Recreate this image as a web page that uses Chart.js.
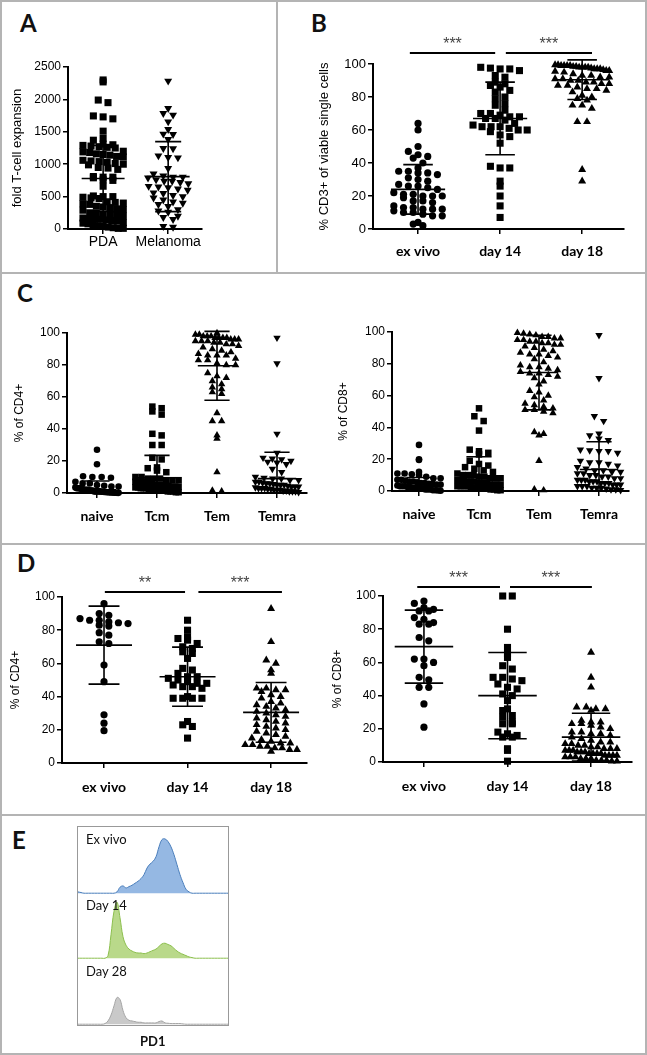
<!DOCTYPE html>
<html>
<head>
<meta charset="utf-8">
<script src="https://cdn.jsdelivr.net/npm/chart.js@4.4.0/dist/chart.umd.min.js"></script>
<style>
body{margin:0;background:#fff;width:647px;height:1055px;position:relative;overflow:hidden;font-family:'Liberation Sans',Arial,sans-serif}
.frame{position:absolute;left:0;top:0;width:647px;height:1055px;border:2px solid #b4b4b4;box-sizing:border-box}
.hline{position:absolute;left:0;width:647px;height:2px;background:#b4b4b4}
.vline{position:absolute;width:2px;background:#b4b4b4}
.letter{position:absolute;font-family:Lato,sans-serif;font-weight:700;font-size:24px;line-height:1;color:#111}
.hlab{position:absolute;font-family:Lato,sans-serif;font-size:13px;line-height:1;color:#111}
.ebox{position:absolute;left:77px;top:826px;width:152px;height:200px;border:1px solid #999;box-sizing:border-box}
canvas{position:absolute}
</style>
</head>
<body>
<div class="frame"></div>
<div class="hline" style="top:272px"></div>
<div class="hline" style="top:543px"></div>
<div class="hline" style="top:814px"></div>
<div class="vline" style="left:276px;top:0;height:273px"></div>

<div class="letter" style="left:20px;top:11px">A</div>
<div class="letter" style="left:311px;top:11px">B</div>
<div class="letter" style="left:17px;top:281px">C</div>
<div class="letter" style="left:17px;top:551px">D</div>
<div class="letter" style="left:12px;top:828px">E</div>

<canvas id="chartA"></canvas>
<canvas id="chartB"></canvas>
<canvas id="chartC4"></canvas>
<canvas id="chartC8"></canvas>
<canvas id="chartD4"></canvas>
<canvas id="chartD8"></canvas>

<div class="ebox"></div>
<canvas id="histEx"></canvas>
<canvas id="hist14"></canvas>
<canvas id="hist28"></canvas>
<div class="hlab" style="left:86px;top:833px">Ex vivo</div>
<div class="hlab" style="left:86px;top:899px">Day 14</div>
<div class="hlab" style="left:86px;top:965px">Day 28</div>
<div class="hlab" style="left:140px;top:1035px;font-weight:700">PD1</div>

<script>
// ---- data ----
const pctTicks = [0, 20, 40, 60, 80, 100];

// A: fold expansion
const aCats = ['PDA', 'Melanoma'];
const aTicks = [0, 500, 1000, 1500, 2000, 2500];
const aPDA = [2300, 2270, 1990, 1950, 1745, 1730, 1700, 1510, 1400, 1370,
  1310, 1300, 1290, 1280, 1270, 1260, 1250, 1200, 1190, 1180, 1160, 1150, 1140, 1120, 1110,
  1060, 1050, 1040, 1030, 1010, 1000, 990, 950, 940, 920, 810, 800, 800, 790, 760, 750, 660,
  510, 500, 500, 490, 480, 470, 420, 410, 400, 390, 380, 350, 340, 330, 310, 300, 290,
  250, 240, 230, 220, 210, 200, 170, 160, 150, 150, 140, 130, 120, 100, 90, 80, 60, 50, 40, 30, 20, 10, 10];
const aMelanoma = [2284, 1862, 1785, 1760, 1656, 1538, 1466, 1460, 1384, 1245, 1240, 1131, 1106, 1100, 936,
  850, 820, 800, 800, 790, 760, 740, 740, 720, 700, 660, 650, 640, 620, 600, 560, 550, 520, 500,
  480, 450, 420, 400, 380, 350, 300, 280, 260, 200, 180, 150, 40, 30];
const aMean = [780, 808];
const aSd = [510, 540];

// B: % CD3+
const bCats = ['ex vivo', 'day 14', 'day 18'];
const bExVivo = [64, 60, 50, 47, 45, 44, 43, 40, 37, 35, 35, 34, 34, 33, 31, 30, 29, 27, 26, 26, 25, 24, 22, 21, 21,
  20, 20, 20, 19, 17, 17, 16, 14, 13, 13, 12, 12, 12, 11, 10, 10, 9, 8, 8, 4, 3, 2];
const bDay14 = [98, 97.5, 97, 97, 96, 93, 92, 89, 88, 87, 86, 84, 83, 80, 79, 76, 75, 72, 70, 70, 69, 68, 68, 67, 67,
  66, 64, 63, 62, 62, 62, 61, 60, 60, 59, 57, 56, 52, 38, 37, 37, 29, 26, 20, 14, 7];
const bDay18 = [99.5, 99.5, 99, 99, 99, 99, 98.5, 98.5, 98, 98, 98, 98, 97.5, 97, 97, 97, 96.5, 96, 96, 95.5, 95, 94,
  93, 93, 92, 92, 91, 91, 90, 90, 89, 89, 88, 88, 87, 87, 86, 85, 85, 84, 83, 81, 80, 79, 78, 75, 75, 73, 65, 65, 36, 29];
const bMean = [24, 67, 90.5];
const bSd = [15, 22, 12];
const bSigFrom = [0.90, 2.07];
const bSigTo = [1.94, 3.12];
const bSigText = ['***', '***'];

// C: subsets
const cCats = ['naive', 'Tcm', 'Tem', 'Temra'];
const cNaive4 = [27, 18, 10.5, 10, 10, 9.5, 7, 6, 6, 5, 4.5, 4, 4, 3.5, 3, 3, 3, 2.5, 2.5, 2, 2, 2, 2, 1.5, 1.5, 1.5,
  1, 1, 1, 1, 1, 0.8, 0.8, 0.6, 0.6, 0.5, 0.5, 0.4, 0.3, 0.3, 0.2, 0.2, 0.1, 0.1];
const cTcm4 = [54, 53, 51, 49, 37, 36, 30, 30, 22, 21, 16, 15.5, 14, 13, 10, 10, 9, 9, 9, 8, 8, 8, 7, 7, 7, 6, 6, 6,
  5, 5, 5, 5, 4.5, 4, 4, 4, 3.5, 3.5, 3, 3, 3, 2.5, 2.5, 2, 2, 2, 1.5, 1.5, 1, 1, 1, 0.5, 0.5];
const cTem4 = [100, 99, 99, 98, 98, 98, 97, 97, 97, 97, 96, 96, 96, 95, 95, 95, 94, 94, 93, 93, 92, 91, 90, 89, 88, 87,
  86, 86, 86, 84, 83, 83, 81, 80, 80, 75, 73, 72, 70, 68, 66, 65, 63, 62, 50, 45, 45, 36, 34, 13, 1.5, 1];
const cTemra4 = [97, 81, 37, 25, 22, 21.5, 21, 20, 19.5, 19, 18, 15, 13, 10, 9.5, 9, 9, 8, 8, 7, 7, 6.5, 6, 6, 5.5,
  5, 5, 5, 4.5, 4, 4, 4, 3.5, 3, 3, 3, 2.5, 2.5, 2, 2, 2, 1.5, 1.5, 1, 1, 1, 0.5];
const cMean4 = [2, 9.5, 79.5, 9];
const cSd4 = [5.5, 14, 21.5, 16.5];

const cNaive8 = [29, 20, 19.5, 12, 11, 11, 10.5, 10, 9, 8, 8, 7, 7, 6.5, 6, 6, 5.5, 5, 5, 4.5, 4.5, 4, 4, 3.5, 3, 3, 3,
  2.5, 2.5, 2, 2, 2, 1.5, 1.5, 1, 1, 1, 0.5, 0.5, 0.3, 0.2];
const cTcm8 = [52, 47, 44, 38, 26, 25, 24, 23, 19, 17, 16, 15, 14, 13, 12, 11, 10, 10, 10, 9, 9, 8, 8, 8, 7, 7, 7,
  6, 6, 6, 5, 5, 5, 5, 4, 4, 4, 4, 3, 3, 3, 3, 2.5, 2, 2, 2, 1.5, 1.5, 1, 1, 0.5, 0.5];
const cTem8 = [99.5, 99, 98.5, 98, 97, 97, 96, 96, 95, 95, 94, 94, 93, 93, 92, 92, 91, 90, 89, 88, 87, 86, 86, 85, 84,
  83, 81, 79, 78, 78, 77, 76, 75, 74, 74, 73, 72, 71, 69, 67, 63, 62, 60, 59, 57, 55, 54, 53, 52, 51, 51, 50, 49,
  37, 36, 35, 19, 1, 0.5];
const cTemra8 = [98, 71, 47, 44, 36, 35, 33, 32, 26, 25.5, 25, 25, 24, 19, 18, 18, 17, 16, 15, 14, 13, 13, 12, 12,
  11, 11, 10, 10, 9, 9, 8, 8, 7, 7, 7, 6, 6, 6, 5, 5, 5, 4, 4, 4, 3, 3, 3, 2, 2, 2, 1.5, 1, 1, 0.5];
const cMean8 = [3, 9, 74.5, 13.5];
const cSd8 = [5.5, 12.5, 23.5, 17.5];

// D: PD1+
const dCats = ['ex vivo', 'day 14', 'day 18'];
const dExVivo4 = [96, 90, 89, 87, 86, 86, 85, 84.5, 84, 83, 82.5, 78.5, 77, 73, 72, 59, 49, 29, 24, 19.5];
const dDay14_4 = [86, 80, 76, 75, 74, 72, 70, 69, 67, 66, 63, 57, 56, 54, 52, 52, 51, 50, 49, 48, 48, 47, 46, 46, 45,
  40, 39, 39, 39, 39, 25, 23, 22, 15];
const dDay18_4 = [93, 73, 62, 60, 56, 54, 45, 45, 44, 44, 43, 41, 40, 39, 37, 36, 35, 34, 33, 32, 31, 30, 29, 28, 27,
  26, 25, 24, 23, 22, 21, 20, 19, 18, 17, 16, 15, 14, 13, 12, 12, 11, 11, 10, 10, 9, 9, 8, 8, 7];
const dMean4 = [71, 52, 30.5];
const dSd4 = [23.5, 17.8, 18];
const dSigFrom4 = [1.01, 2.13];
const dSigTo4 = [1.97, 3.13];
const dSigText4 = ['**', '***'];

const dExVivo8 = [97, 95.5, 93, 92, 91, 91, 87, 86, 84, 83, 83, 75, 73, 62, 62, 60, 58, 51, 49.5, 45, 45, 35, 21];
const dDay14_8 = [100, 100, 80, 69, 65, 63, 58, 56, 51, 51, 50, 49, 47, 45, 44, 41, 40, 37, 32, 31, 28, 27, 24, 23,
  23, 18, 17, 16, 15, 15, 8, 7, 0.5];
const dDay18_8 = [66, 51, 45, 33, 33, 32, 32, 31, 25, 24, 24, 23, 23, 22, 21, 20, 18, 18, 17, 17, 16, 15, 14, 13, 12,
  12, 11, 11, 10, 10, 9, 9, 8, 8, 8, 7, 7, 7, 6, 6, 6, 5, 5, 5, 5, 4, 4, 4, 4, 3, 3, 3, 2, 2, 2, 1, 1, 1, 0.5, 0.5];
const dMean8 = [69.5, 40, 15];
const dSd8 = [22, 26, 14.4];
const dSigFrom8 = [0.92, 2.03];
const dSigTo8 = [1.91, 3.01];
const dSigText8 = ['***', '***'];

// E: PD1 histograms (relative counts on a 0..1 PD1 axis)
const pd1Bins = [];
for (let i = 0; i <= 50; i++) pd1Bins.push(i / 50);
const histExVivo = [0.02, 0.01, 0, 0, 0, 0, 0, 0, 0, 0, 0, 0, 0, 0.02, 0.09, 0.11, 0.08, 0.10, 0.12, 0.15, 0.18,
  0.22, 0.28, 0.38, 0.44, 0.48, 0.55, 0.70, 0.81, 0.82, 0.78, 0.70, 0.58, 0.43, 0.28, 0.16, 0.06, 0.02,
  0, 0, 0, 0, 0, 0, 0, 0, 0, 0, 0, 0, 0];
const histDay14 = [0, 0, 0, 0, 0, 0, 0, 0, 0, 0, 0.04, 0.36, 0.72, 0.86, 0.62, 0.33, 0.20, 0.14, 0.11, 0.09, 0.08,
  0.08, 0.07, 0.08, 0.10, 0.12, 0.14, 0.18, 0.22, 0.23, 0.21, 0.19, 0.15, 0.11, 0.08, 0.06, 0.04, 0.02, 0.01,
  0, 0, 0, 0, 0, 0, 0, 0, 0, 0, 0, 0];
const histDay28 = [0, 0, 0, 0, 0, 0, 0, 0, 0, 0.01, 0.05, 0.14, 0.28, 0.41, 0.38, 0.21, 0.10, 0.06, 0.05, 0.04, 0.03,
  0.03, 0.02, 0.02, 0.02, 0.02, 0.02, 0.04, 0.05, 0.02, 0.015, 0.01, 0.01, 0.01, 0.01, 0.005,
  0, 0, 0, 0, 0, 0, 0, 0, 0, 0, 0, 0, 0, 0, 0];

// ---- helpers ----
// GraphPad-like scatter: points sharing a value bin are spread side by side
function swarm(values, center, binH, step, maxHalf) {
  const bins = {};
  values.forEach(v => {
    const k = Math.floor(v / binH);
    (bins[k] = bins[k] || []).push(v);
  });
  const pts = [];
  Object.values(bins).forEach(list => {
    const n = list.length;
    const s = n > 1 ? Math.min(step, 2 * maxHalf / (n - 1)) : 0;
    list.forEach((v, i) => pts.push({ x: center + (i - (n - 1) / 2) * s, y: v }));
  });
  return pts;
}

// mean line + SD whiskers with caps, gaps split by null
function errorBars(means, sds, meanW, capW) {
  const d = [];
  means.forEach((m, i) => {
    const c = i + 1, s = sds[i];
    d.push({ x: c - meanW / 2, y: m }, { x: c + meanW / 2, y: m }, { x: c, y: null },
      { x: c, y: m + s }, { x: c, y: Math.max(m - s, 0) }, { x: c, y: null },
      { x: c - capW / 2, y: m + s }, { x: c + capW / 2, y: m + s }, { x: c, y: null });
    if (m - s > 0) d.push({ x: c - capW / 2, y: m - s }, { x: c + capW / 2, y: m - s }, { x: c, y: null });
  });
  return d;
}

function starsPlugin(sig) {
  return {
    id: 'stars',
    afterDatasetsDraw(chart) {
      if (!sig) return;
      const ctx = chart.ctx, xs = chart.scales.x, ys = chart.scales.y;
      ctx.save();
      ctx.font = '16px "Liberation Sans"';
      ctx.fillStyle = '#444';
      ctx.textAlign = 'center';
      ctx.textBaseline = 'alphabetic';
      sig.text.forEach((t, i) => {
        const x = (xs.getPixelForValue(sig.from[i]) + xs.getPixelForValue(sig.to[i])) / 2;
        ctx.fillText(t, x, ys.getPixelForValue(sig.y) - 4);
      });
      ctx.restore();
    }
  };
}

const shapes = {
  circle: { pointStyle: 'circle', rot: 0 },
  square: { pointStyle: 'rect', rot: 0 },
  up: { pointStyle: 'triangle', rot: 0 },
  down: { pointStyle: 'triangle', rot: 180 }
};

function dotPlot(id, box, area, o) {
  const cv = document.getElementById(id);
  cv.style.left = box[0] + 'px';
  cv.style.top = box[1] + 'px';
  cv.width = box[2];
  cv.height = box[3];
  const L = area[0] - box[0], T = area[1] - box[1];
  const R = box[2] - (area[2] - box[0]), B = box[3] - (area[3] - box[1]);

  const datasets = [{
    data: errorBars(o.mean, o.sd, o.meanW, o.capW), showLine: true, borderColor: '#000',
    borderWidth: 1.6, pointRadius: 0, clip: false, order: 0
  }];
  if (o.sig) {
    o.sig.from.forEach((f, i) => datasets.push({
      data: [{ x: f, y: o.sig.y }, { x: o.sig.to[i], y: o.sig.y }], showLine: true,
      borderColor: '#000', borderWidth: 2, pointRadius: 0, clip: false, order: 0
    }));
  }
  o.series.forEach((vals, i) => {
    const sh = shapes[o.shapes[i]];
    datasets.push({
      data: swarm(vals, i + 1, o.binH, o.step, o.maxHalf),
      pointStyle: sh.pointStyle, pointRotation: sh.rot, pointRadius: o.radius[o.shapes[i]],
      pointBackgroundColor: '#000', pointBorderWidth: 0, clip: false, order: 1
    });
  });

  const axisGrid = { drawOnChartArea: false, color: '#000', lineWidth: 1.5, tickLength: 5 };
  const axisBorder = { color: '#000', width: 2 };

  new Chart(cv, {
    type: 'scatter',
    data: { datasets },
    options: {
      responsive: false,
      animation: false,
      layout: { padding: { left: 0, top: T, right: R, bottom: 0 } },
      plugins: { legend: { display: false }, tooltip: { enabled: false } },
      scales: {
        x: {
          type: 'linear', min: o.xMin, max: o.xMax,
          afterBuildTicks: s => { s.ticks = o.cats.map((c, i) => ({ value: i + 1 })); },
          afterFit: s => { s.height = B; },
          ticks: { callback: v => o.cats[v - 1], autoSkip: false, maxRotation: 0, padding: o.xPad, color: '#000', font: o.xFont },
          grid: axisGrid, border: axisBorder
        },
        y: {
          min: 0, max: o.yTicks[o.yTicks.length - 1],
          afterBuildTicks: s => { s.ticks = o.yTicks.map(v => ({ value: v })); },
          afterFit: s => { s.width = L; },
          ticks: { callback: v => String(v), padding: 2, color: '#000', font: o.yFont },
          grid: axisGrid, border: axisBorder,
          title: { display: true, text: o.yTitle, color: '#000', font: o.titleFont, padding: { top: o.titlePad, bottom: 0 } }
        }
      }
    },
    plugins: [starsPlugin(o.sig)]
  });
}

const sans = 'Liberation Sans';
const boldCat = { family: 'Lato', weight: 'bold', size: 14 };

dotPlot('chartA', [2, 2, 274, 268], [68, 67, 202, 229], {
  cats: aCats, series: [aPDA, aMelanoma], shapes: ['square', 'down'],
  radius: { square: 5, down: 4.6 }, mean: aMean, sd: aSd, meanW: 0.66, capW: 0.4,
  binH: 100, step: 0.15, maxHalf: 0.31, xMin: 0.46, xMax: 2.52,
  yTicks: aTicks, yFont: { family: sans, size: 12 }, xFont: { family: sans, size: 14 }, xPad: 0,
  yTitle: 'fold T-cell expansion', titleFont: { family: sans, size: 13 }, titlePad: 8
});

dotPlot('chartB', [279, 2, 364, 268], [373, 64, 624, 229], {
  cats: bCats, series: [bExVivo, bDay14, bDay18], shapes: ['circle', 'square', 'up'],
  radius: { circle: 3.6, square: 5, up: 4.6 }, mean: bMean, sd: bSd, meanW: 0.66, capW: 0.36,
  binH: 4, step: 0.118, maxHalf: 0.33, xMin: 0.451, xMax: 3.51,
  yTicks: pctTicks, yFont: { family: sans, size: 13 }, xFont: boldCat, xPad: 9,
  yTitle: '% CD3+ of viable single cells', titleFont: { family: sans, size: 13 }, titlePad: 38,
  sig: { from: bSigFrom, to: bSigTo, text: bSigText, y: 106.7 }
});

dotPlot('chartC4', [2, 275, 320, 266], [67, 333, 307, 493], {
  cats: cCats, series: [cNaive4, cTcm4, cTem4, cTemra4], shapes: ['circle', 'square', 'up', 'down'],
  radius: { circle: 3.3, square: 4.6, up: 4.3, down: 4.3 }, mean: cMean4, sd: cSd4, meanW: 0.64, capW: 0.42,
  binH: 4, step: 0.155, maxHalf: 0.36, xMin: 0.5, xMax: 4.5,
  yTicks: pctTicks, yFont: { family: sans, size: 12 }, xFont: boldCat, xPad: 10,
  yTitle: '% of CD4+', titleFont: { family: sans, size: 12 }, titlePad: 10
});

dotPlot('chartC8', [322, 275, 321, 266], [392, 332, 629, 491], {
  cats: cCats, series: [cNaive8, cTcm8, cTem8, cTemra8], shapes: ['circle', 'square', 'up', 'down'],
  radius: { circle: 3.3, square: 4.6, up: 4.3, down: 4.3 }, mean: cMean8, sd: cSd8, meanW: 0.64, capW: 0.42,
  binH: 4, step: 0.155, maxHalf: 0.36, xMin: 0.55, xMax: 4.5,
  yTicks: pctTicks, yFont: { family: sans, size: 12 }, xFont: boldCat, xPad: 10,
  yTitle: '% of CD8+', titleFont: { family: sans, size: 12 }, titlePad: 14
});

dotPlot('chartD4', [2, 545, 320, 268], [62, 597, 307, 763], {
  cats: dCats, series: [dExVivo4, dDay14_4, dDay18_4], shapes: ['circle', 'square', 'up'],
  radius: { circle: 3.6, square: 5, up: 4.6 }, mean: dMean4, sd: dSd4, meanW: 0.67, capW: 0.37,
  binH: 4, step: 0.115, maxHalf: 0.31, xMin: 0.497, xMax: 3.43,
  yTicks: pctTicks, yFont: { family: sans, size: 12 }, xFont: boldCat, xPad: 11,
  yTitle: '% of CD4+', titleFont: { family: sans, size: 12 }, titlePad: 6,
  sig: { from: dSigFrom4, to: dSigTo4, text: dSigText4, y: 103 }
});

dotPlot('chartD8', [322, 545, 321, 268], [383, 596, 632, 762], {
  cats: dCats, series: [dExVivo8, dDay14_8, dDay18_8], shapes: ['circle', 'square', 'up'],
  radius: { circle: 3.6, square: 5, up: 4.6 }, mean: dMean8, sd: dSd8, meanW: 0.7, capW: 0.46,
  binH: 4, step: 0.115, maxHalf: 0.31, xMin: 0.51, xMax: 3.49,
  yTicks: pctTicks, yFont: { family: sans, size: 12 }, xFont: boldCat, xPad: 11,
  yTitle: '% of CD8+', titleFont: { family: sans, size: 12 }, titlePad: 8,
  sig: { from: dSigFrom8, to: dSigTo8, text: dSigText8, y: 105.4 }
});

function histogram(id, top, height, vals, fill, line) {
  const cv = document.getElementById(id);
  cv.style.left = '78px';
  cv.style.top = top + 'px';
  cv.width = 150;
  cv.height = height;
  new Chart(cv, {
    type: 'line',
    data: {
      datasets: [{
        data: pd1Bins.map((x, i) => ({ x, y: vals[i] })), fill: 'origin',
        backgroundColor: fill, borderColor: line, borderWidth: 1, pointRadius: 0, tension: 0.4
      }]
    },
    options: {
      responsive: false, animation: false,
      layout: { padding: 0 },
      plugins: { legend: { display: false }, tooltip: { enabled: false } },
      scales: {
        x: { type: 'linear', display: false, min: 0, max: 1 },
        y: { display: false, min: -0.012, max: 1 }
      }
    }
  });
}
histogram('histEx', 827, 67, histExVivo, '#95b8e3', '#4a7ebb');
histogram('hist14', 893, 66, histDay14, '#b9d98a', '#8cbf4e');
histogram('hist28', 959, 66, histDay28, '#c9c9c9', '#a5a5a5');
</script>
</body>
</html>
